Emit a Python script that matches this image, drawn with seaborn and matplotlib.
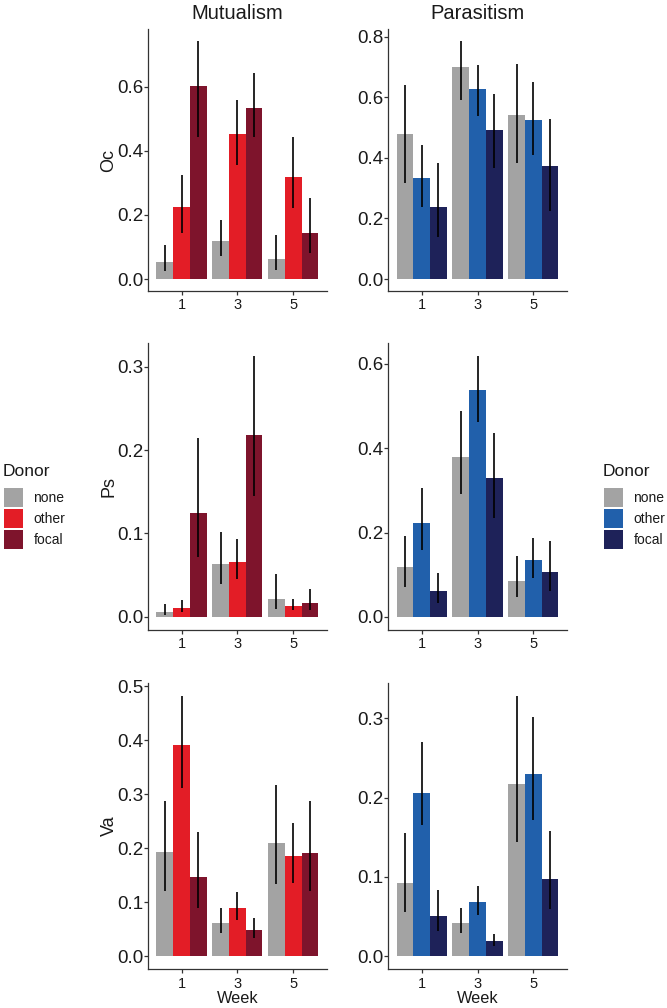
import numpy as np
import pandas as pd
import matplotlib
matplotlib.use("Agg")
import matplotlib.pyplot as plt
import seaborn as sns
from matplotlib.patches import Patch
from matplotlib.ticker import MultipleLocator, FormatStrFormatter

# ---------------- data ----------------
weeks = ["1", "3", "5"]
donors = ["none", "other", "focal"]
treatments = ["Mutualism", "Parasitism"]
responses = ["Oc", "Ps", "Va"]

# rows: week 1, 3, 5 ; columns: none, other, focal
mut_oc_mean = [[0.052, 0.224, 0.602], [0.118, 0.452, 0.533], [0.062, 0.317, 0.145]]
mut_oc_lo = [[0.026, 0.143, 0.444], [0.073, 0.357, 0.442], [0.029, 0.222, 0.081]]
mut_oc_hi = [[0.106, 0.325, 0.743], [0.185, 0.559, 0.642], [0.137, 0.444, 0.254]]

par_oc_mean = [[0.478, 0.334, 0.239], [0.700, 0.628, 0.492], [0.540, 0.526, 0.372]]
par_oc_lo = [[0.317, 0.237, 0.138], [0.592, 0.539, 0.368], [0.382, 0.411, 0.224]]
par_oc_hi = [[0.641, 0.444, 0.383], [0.786, 0.708, 0.610], [0.709, 0.651, 0.528]]

mut_ps_mean = [[0.006, 0.011, 0.125], [0.064, 0.066, 0.218], [0.022, 0.013, 0.017]]
mut_ps_lo = [[0.002, 0.006, 0.072], [0.040, 0.046, 0.145], [0.009, 0.008, 0.008]]
mut_ps_hi = [[0.015, 0.020, 0.214], [0.102, 0.093, 0.313], [0.052, 0.022, 0.033]]

par_ps_mean = [[0.118, 0.223, 0.061], [0.380, 0.538, 0.330], [0.084, 0.135, 0.107]]
par_ps_lo = [[0.071, 0.159, 0.033], [0.291, 0.463, 0.234], [0.047, 0.092, 0.062]]
par_ps_hi = [[0.193, 0.306, 0.103], [0.489, 0.619, 0.435], [0.144, 0.188, 0.179]]

mut_va_mean = [[0.193, 0.392, 0.146], [0.061, 0.090, 0.049], [0.209, 0.185, 0.191]]
mut_va_lo = [[0.121, 0.311, 0.089], [0.043, 0.068, 0.034], [0.133, 0.136, 0.120]]
mut_va_hi = [[0.288, 0.482, 0.231], [0.089, 0.119, 0.071], [0.317, 0.247, 0.288]]

par_va_mean = [[0.092, 0.206, 0.051], [0.042, 0.068, 0.019], [0.217, 0.230, 0.098]]
par_va_lo = [[0.056, 0.166, 0.032], [0.029, 0.052, 0.013], [0.144, 0.172, 0.059]]
par_va_hi = [[0.155, 0.270, 0.084], [0.061, 0.089, 0.028], [0.328, 0.301, 0.158]]

tick_steps = {("Oc", "Mutualism"): 0.2, ("Oc", "Parasitism"): 0.2,
              ("Ps", "Mutualism"): 0.1, ("Ps", "Parasitism"): 0.2,
              ("Va", "Mutualism"): 0.1, ("Va", "Parasitism"): 0.1}

mut_colors = ["#A3A3A3", "#E31D26", "#7E142C"]
par_colors = ["#A3A3A3", "#2160AB", "#1E2259"]

panel_data = {
    ("Oc", "Mutualism"): (mut_oc_mean, mut_oc_lo, mut_oc_hi),
    ("Oc", "Parasitism"): (par_oc_mean, par_oc_lo, par_oc_hi),
    ("Ps", "Mutualism"): (mut_ps_mean, mut_ps_lo, mut_ps_hi),
    ("Ps", "Parasitism"): (par_ps_mean, par_ps_lo, par_ps_hi),
    ("Va", "Mutualism"): (mut_va_mean, mut_va_lo, mut_va_hi),
    ("Va", "Parasitism"): (par_va_mean, par_va_lo, par_va_hi),
}

# ---------------- style ----------------
sns.set_theme(style="ticks")
plt.rcParams["font.family"] = ["Liberation Sans", "DejaVu Sans"]
plt.rcParams["axes.edgecolor"] = "#333333"
plt.rcParams["xtick.color"] = "#333333"
plt.rcParams["ytick.color"] = "#333333"

W, H = 667, 1008
fig = plt.figure(figsize=(W / 100, H / 100), dpi=100)


def frac(l, t, r, b):
    return [l / W, 1 - b / H, (r - l) / W, (b - t) / H]


col_x = {"Mutualism": (148, 326.7), "Parasitism": (388.3, 566.7)}
row_y = {"Oc": (29, 291), "Ps": (342.7, 630), "Va": (683, 969.3)}

for resp in responses:
    for trt in treatments:
        mean, lo, hi = panel_data[(resp, trt)]
        colors = mut_colors if trt == "Mutualism" else par_colors
        l, r = col_x[trt]
        t, b = row_y[resp]
        ax = fig.add_axes(frac(l, t, r, b))
        df = pd.DataFrame({
            "Week": np.repeat(weeks, len(donors)),
            "Donor": donors * len(weeks),
            "value": np.array(mean).ravel(),
        })
        sns.barplot(data=df, x="Week", y="value", hue="Donor", order=weeks,
                    hue_order=donors, palette=colors, errorbar=None, width=0.9,
                    saturation=1, legend=False, ax=ax, linewidth=0)
        for cont, di in zip(ax.containers, range(len(donors))):
            for bar, wi in zip(cont, range(len(weeks))):
                xc = bar.get_x() + bar.get_width() / 2
                ax.vlines(xc, lo[wi][di], hi[wi][di], color="black", lw=1.2, zorder=5)
        top = np.max(hi)
        ax.set_ylim(-0.05 * top, 1.05 * top)
        ax.set_xlim(-0.6, 2.6)
        ax.yaxis.set_major_locator(MultipleLocator(tick_steps[(resp, trt)]))
        ax.yaxis.set_major_formatter(FormatStrFormatter("%.1f"))
        sns.despine(ax=ax)
        for s in ("left", "bottom"):
            ax.spines[s].set_linewidth(0.9)
        ax.tick_params(axis="y", labelsize=13.5, length=2.8, width=0.9, pad=0.8,
                       labelcolor="#1a1a1a")
        ax.tick_params(axis="x", labelsize=10.5, length=2.8, width=0.9, pad=2.5,
                       labelcolor="#1a1a1a")
        if trt == "Mutualism":
            ax.set_ylabel(resp, fontsize=13, color="#1a1a1a")
            ax.yaxis.set_label_coords(-0.17, 0.5)
        else:
            ax.set_ylabel("")
        if resp == "Va":
            ax.set_xlabel("Week", fontsize=11.7, color="#1a1a1a", labelpad=0.5)
        else:
            ax.set_xlabel("")
        if resp == "Oc":
            ax.set_title(trt, fontsize=14.5, pad=7.5, color="#1a1a1a")

# ---------------- legends ----------------
legends = []
for colors, xpix in ((mut_colors, 4), (par_colors, 604)):
    handles = [Patch(facecolor=c, edgecolor="none", label=d) for c, d in zip(colors, donors)]
    leg = fig.legend(handles=handles, loc="upper left",
                     bbox_to_anchor=(xpix / W, 1 - 487 / H), frameon=False,
                     fontsize=10, handlelength=1.37,
                     handleheight=1.72, labelspacing=0.15, handletextpad=0.75,
                     borderpad=0, borderaxespad=0, alignment="left")
    for txt in leg.get_texts():
        txt.set_color("#1a1a1a")
    ttl = fig.text(xpix / W, 1 - 472 / H, "Donor", fontsize=12.5, color="#1a1a1a",
                   ha="left", va="center")
    legends.append((leg, ttl, xpix))

# make sure keys start exactly where intended (pixel positions)
fig.canvas.draw()
rend = fig.canvas.get_renderer()
for leg, ttl, xpix in legends:
    bb = leg.legend_handles[0].get_window_extent(rend)
    dx = xpix - bb.x0
    dy = (H - 488) - bb.y1
    leg.set_bbox_to_anchor(((xpix + dx) / W, (H - 487 + dy) / H), transform=fig.transFigure)
    tb = ttl.get_window_extent(rend)
    ttl.set_x(ttl.get_position()[0] + (xpix - 1 - tb.x0) / W)

fig.savefig("out.png", dpi=100)
